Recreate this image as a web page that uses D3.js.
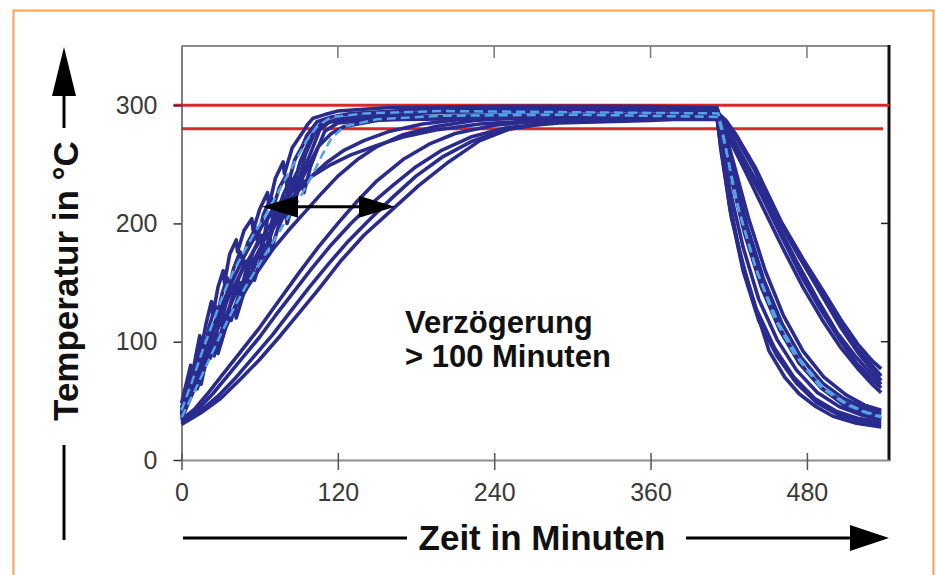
<!DOCTYPE html>
<html>
<head>
<meta charset="utf-8">
<script src="https://cdn.jsdelivr.net/npm/d3@7"></script>
<style>
  body { margin: 0; background: #fff; }
  svg { display: block; font-family: "Liberation Sans", Arial, sans-serif; }
</style>
</head>
<body>
<div id="chart"></div>
<script>
const width = 936, height = 575;

// axis ticks and limit lines
const xTicks = [0, 120, 240, 360, 480];
const yTicks = [0, 100, 200, 300];
const limitLines = [300, 280];

// fast heating runs (jagged), [minutes, °C]
const curveF1 = [[0,48],[4,66],[7,80],[8,70],[11,88],[14,105],[15,94],[19,116],[23,134],[24,122],[28,146],[32,160],[33,150],[37,174],[42,186],[43,176],[48,194],[54,204],[55,194],[60,212],[66,226],[67,214],[72,238],[78,252],[79,242],[85,264],[93,277],[97,284],[101,289],[110,292],[120,295],[160,298],[250,299],[350,299],[411,298],
  [416,280],[424,240],[435,190],[447,146],[461,108],[476,80],[492,60],[509,46],[524,39],[537,35]];
const curveF2 = [[0,44],[5,64],[8,78],[9,68],[13,88],[16,100],[17,90],[21,112],[26,130],[27,120],[31,140],[35,154],[36,144],[40,162],[45,176],[46,166],[51,184],[57,196],[58,186],[63,208],[69,222],[70,212],[75,230],[80,240],[81,230],[87,254],[93,266],[96,274],[104,286],[115,290],[130,293],[180,296],[300,297],[411,296],
  [416,282],[424,250],[435,205],[448,160],[462,122],[477,92],[493,70],[510,55],[525,46],[537,42]];
const curveF3 = [[0,40],[5,58],[9,74],[10,64],[14,82],[18,96],[19,86],[24,108],[29,124],[30,114],[35,136],[39,148],[40,138],[44,154],[49,168],[50,158],[55,176],[61,190],[62,180],[66,204],[71,214],[72,204],[78,224],[84,238],[85,228],[91,252],[99,272],[103,280],[107,284],[120,288],[140,291],[200,294],[300,295],[411,295],
  [416,278],[423,245],[434,198],[447,152],[461,115],[476,86],[492,65],[508,52],[524,44],[537,40]];
const curveF4 = [[0,38],[6,58],[10,72],[11,62],[16,82],[21,96],[22,86],[27,108],[32,124],[33,114],[38,134],[43,148],[44,138],[49,158],[54,170],[55,160],[60,178],[66,192],[67,182],[70,206],[76,218],[77,208],[82,228],[88,242],[89,232],[95,258],[102,276],[110,285],[125,288],[150,290],[250,291],[412,291],
  [419,280],[428,262],[442,234],[458,198],[472,168],[488,136],[503,108],[517,88],[530,72],[537,64]];
const curveF5 = [[0,36],[6,54],[11,70],[12,60],[18,80],[24,98],[25,88],[31,110],[37,128],[38,118],[44,140],[50,158],[51,148],[57,168],[63,182],[64,172],[69,192],[74,208],[75,198],[81,220],[87,232],[88,222],[94,246],[100,262],[106,279],[114,286],[130,288],[160,289],[260,290],[411,290],
  [414,272],[421,228],[431,180],[443,136],[457,102],[472,76],[488,57],[505,45],[522,38],[537,34]];
const curveF6 = [[0,42],[7,60],[13,76],[14,66],[20,86],[27,100],[28,90],[34,112],[41,130],[42,120],[48,142],[55,162],[56,152],[62,174],[68,188],[69,178],[74,196],[80,210],[81,200],[87,222],[93,236],[94,226],[99,248],[104,262],[110,278],[120,285],[140,287],[170,288],[260,289],[412,289],
  [419,278],[430,255],[445,224],[460,190],[476,155],[490,128],[505,102],[518,82],[530,68],[537,61]];
const curveF7 = [[0,34],[8,56],[14,74],[15,64],[20,90],[27,108],[28,98],[35,124],[45,150],[46,140],[52,162],[60,178],[61,168],[70,195],[80,214],[81,204],[90,232],[98,250],[105,265],[115,276],[125,282],[150,287],[180,290],[300,292],[411,292],
  [415,276],[422,238],[432,192],[445,146],[459,110],[474,82],[490,62],[507,49],[523,42],[537,38]];

// intermediate runs
const curveM1 = [[0,40],[6,58],[12,76],[18,94],[24,112],[30,128],[36,144],[42,158],[48,172],[55,186],[62,198],[70,210],[78,220],[88,230],[100,240],[115,250],[130,258],[150,266],[170,273],[195,279],[229,284],[270,287],[330,288],[412,288],
  [420,272],[431,248],[446,214],[462,178],[477,146],[492,118],[506,95],[520,76],[531,63],[537,57]];
const curveM2 = [[0,38],[8,62],[16,86],[24,108],[32,128],[40,146],[48,163],[56,178],[64,192],[72,205],[80,216],[90,228],[100,240],[112,252],[125,262],[140,270],[160,278],[185,284],[215,288],[260,290],[330,291],[412,292],
  [418,286],[425,276],[440,248],[461,200],[477,170],[493,142],[507,117],[519,98],[530,84],[537,77]];
const curveM3 = [[0,36],[10,60],[20,84],[30,106],[40,126],[50,145],[60,162],[70,178],[82,194],[95,210],[108,226],[120,240],[135,254],[150,265],[170,275],[195,282],[225,287],[270,290],[340,291],[412,293],
  [418,287],[426,274],[441,244],[459,202],[475,170],[491,140],[506,112],[519,91],[530,76],[537,67]];

// slow runs (delayed by > 100 min)
const curveS1 = [[0,34],[10,43],[20,56],[30,70],[40,84],[50,98],[60,112],[75,135],[90,158],[105,180],[120,200],[135,219],[150,236],[170,254],[190,267],[210,276],[240,283],[280,287],[350,288],[411,290],
  [414,268],[420,222],[429,172],[441,128],[455,95],[470,70],[486,52],[503,41],[520,35],[537,32]];
const curveS2 = [[0,32],[12,42],[24,56],[36,72],[48,88],[60,104],[72,122],[86,142],[100,162],[115,182],[130,200],[145,216],[162,232],[180,248],[200,262],[222,273],[250,281],[290,285],[360,287],[412,290],
  [418,284],[426,272],[440,245],[458,203],[474,172],[490,143],[505,116],[518,95],[530,80],[537,71]];
const curveS3 = [[0,31],[14,41],[28,54],[42,70],[56,88],[70,106],[84,126],[98,146],[113,166],[128,185],[145,204],[162,222],[180,240],[200,256],[222,269],[248,279],[280,285],[330,288],[411,290],
  [414,265],[421,212],[431,160],[443,118],[457,88],[472,65],[488,48],[505,38],[521,33],[537,30]];
const curveS4 = [[0,30],[15,40],[30,52],[45,68],[60,85],[75,104],[90,124],[105,144],[122,168],[140,190],[160,210],[182,232],[205,252],[229,270],[252,280],[285,286],[330,289],[411,289],
  [414,262],[422,205],[435,148],[451,92],[463,70],[474,56],[487,45],[500,37],[518,31],[537,28]];

// light blue dashed runs
const curveL1 = [[0,42],[8,66],[16,92],[24,116],[32,140],[40,160],[48,176],[56,192],[64,206],[72,222],[80,238],[88,254],[96,270],[104,282],[115,290],[140,293],[200,295],[300,294],[412,293],
  [415,280],[425,222],[440,165],[455,120],[470,90],[490,62],[510,47],[525,40],[537,36]];
const curveL2 = [[0,36],[10,58],[20,82],[30,106],[40,128],[50,148],[60,166],[70,184],[80,202],[90,220],[100,240],[108,258],[115,272],[125,282],[150,288],[200,291],[300,292],[412,290],
  [418,262],[428,210],[442,158],[458,116],[474,86],[492,62],[510,48],[524,41],[537,37]];

const navyCurves = [curveS4, curveS3, curveS2, curveS1, curveM3, curveM2, curveM1,
  curveF7, curveF6, curveF5, curveF4, curveF3, curveF2, curveF1];
const lightCurves = [curveL1, curveL2];

const svg = d3.select("#chart").append("svg")
    .attr("width", width)
    .attr("height", height);

// orange frame
svg.append("rect")
    .attr("x", 13.5).attr("y", 10.5)
    .attr("width", 920).attr("height", 620)
    .attr("fill", "#fff")
    .attr("stroke", "#f6a24e")
    .attr("stroke-width", 2);

const x = d3.scaleLinear().domain([0, 543]).range([181.5, 889]);
const y = d3.scaleLinear().domain([0, 350]).range([460, 46]);

const line = d3.line()
    .x(d => x(d[0]))
    .y(d => y(d[1]));

// frame: top grey, right black
svg.append("line")
    .attr("x1", x(0)).attr("x2", x(543))
    .attr("y1", y(350)).attr("y2", y(350))
    .attr("stroke", "#8c8c8c").attr("stroke-width", 2);

svg.append("line")
    .attr("x1", x(543)).attr("x2", x(543))
    .attr("y1", y(350) - 1).attr("y2", y(0) + 1)
    .attr("stroke", "#111").attr("stroke-width", 3);

// inner ticks on top and right
svg.selectAll(".topTick")
    .data(xTicks.filter(d => d > 0))
    .enter().append("line")
    .attr("x1", d => x(d)).attr("x2", d => x(d))
    .attr("y1", y(350)).attr("y2", y(350) + 12)
    .attr("stroke", "#777").attr("stroke-width", 1.5);

svg.selectAll(".rightTick")
    .data(yTicks.filter(d => d > 0))
    .enter().append("line")
    .attr("x1", x(543) - 8).attr("x2", x(543))
    .attr("y1", d => y(d)).attr("y2", d => y(d))
    .attr("stroke", "#222").attr("stroke-width", 1.5);

// limit lines
svg.selectAll(".limit")
    .data(limitLines)
    .enter().append("line")
    .attr("x1", d => d === 300 ? x(0) - 8 : x(0))
    .attr("x2", d => d === 300 ? x(543) : x(543) - 6)
    .attr("y1", d => y(d)).attr("y2", d => y(d))
    .attr("stroke", "#d8282c")
    .attr("stroke-width", 3);

// axes
const yAxis = svg.append("g")
    .attr("transform", `translate(${x(0)},0)`)
    .call(d3.axisLeft(y).tickValues(yTicks).tickSizeInner(8).tickSizeOuter(0).tickPadding(16));

const xAxis = svg.append("g")
    .attr("transform", `translate(0,${y(0)})`)
    .call(d3.axisBottom(x).tickValues(xTicks).tickSizeInner(10).tickSizeOuter(0).tickPadding(13));

xAxis.selectAll(".tick line").attr("y1", -7);
xAxis.select(".domain").attr("stroke", "#8c8c8c").attr("stroke-width", 2);
yAxis.select(".domain").attr("stroke", "#555").attr("stroke-width", 1.5);
yAxis.selectAll(".tick line").attr("stroke", "#333").attr("stroke-width", 1.5);
xAxis.selectAll(".tick line").attr("stroke", "#555").attr("stroke-width", 1.5);

svg.selectAll(".tick text")
    .attr("font-size", 25)
    .attr("font-family", "'Liberation Sans', Arial, sans-serif")
    .attr("fill", "#3a3a3a");

// measurement curves
svg.append("g").selectAll("path")
    .data(navyCurves)
    .enter().append("path")
    .attr("d", line)
    .attr("fill", "none")
    .attr("stroke", "#2a2b8e")
    .attr("stroke-width", 3.6)
    .attr("stroke-linejoin", "round");

svg.append("g").selectAll("path")
    .data(lightCurves)
    .enter().append("path")
    .attr("d", line)
    .attr("fill", "none")
    .attr("stroke", "#55a3e4")
    .attr("stroke-width", 2.5)
    .attr("stroke-dasharray", "9,5");

// delay arrow
const arrowY = y(214);
svg.append("line")
    .attr("x1", 290).attr("x2", 370)
    .attr("y1", arrowY).attr("y2", arrowY)
    .attr("stroke", "#000").attr("stroke-width", 3);
svg.append("path")
    .attr("d", `M262,${arrowY} L298,${arrowY - 11} L298,${arrowY + 11} Z`)
    .attr("fill", "#000");
svg.append("path")
    .attr("d", `M395,${arrowY} L359,${arrowY - 11} L359,${arrowY + 11} Z`)
    .attr("fill", "#000");

// annotation
const note = svg.append("text")
    .attr("font-size", 31)
    .attr("font-weight", "bold")
    .attr("fill", "#111");
note.append("tspan").attr("x", 405).attr("y", 333).text("Verzögerung");
note.append("tspan").attr("x", 405).attr("y", 367).text("> 100 Minuten");

// x axis title with arrow
svg.append("text")
    .attr("x", 542).attr("y", 550)
    .attr("text-anchor", "middle")
    .attr("font-size", 35)
    .attr("font-weight", "bold")
    .attr("fill", "#111")
    .text("Zeit in Minuten");
svg.append("line")
    .attr("x1", 183).attr("x2", 407).attr("y1", 538).attr("y2", 538)
    .attr("stroke", "#000").attr("stroke-width", 3);
svg.append("line")
    .attr("x1", 686).attr("x2", 855).attr("y1", 538).attr("y2", 538)
    .attr("stroke", "#000").attr("stroke-width", 3);
svg.append("path")
    .attr("d", "M889,538 L850,525 L850,551 Z")
    .attr("fill", "#000");

// y axis title with arrow
svg.append("text")
    .attr("transform", "translate(78,281) rotate(-90)")
    .attr("text-anchor", "middle")
    .attr("font-size", 35)
    .attr("font-weight", "bold")
    .attr("fill", "#111")
    .text("Temperatur in °C");
svg.append("line")
    .attr("x1", 64).attr("x2", 64).attr("y1", 92).attr("y2", 128)
    .attr("stroke", "#000").attr("stroke-width", 3);
svg.append("path")
    .attr("d", "M64,47 L52,96 L76,96 Z")
    .attr("fill", "#000");
svg.append("line")
    .attr("x1", 64).attr("x2", 64).attr("y1", 445).attr("y2", 540)
    .attr("stroke", "#000").attr("stroke-width", 3);
</script>
</body>
</html>
